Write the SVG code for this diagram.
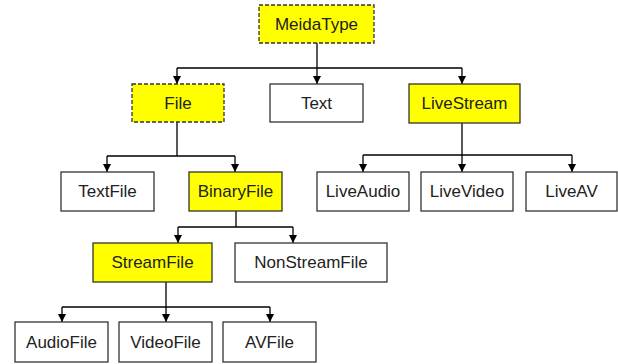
<svg xmlns="http://www.w3.org/2000/svg" width="618" height="364" viewBox="0 0 618 364">
<defs>
<style>
.n{fill:#fff;stroke:#333;stroke-width:1.3}
.y{fill:#ffff00;stroke:#333;stroke-width:1.3}
.d{stroke-dasharray:4 2}
text{font-family:"Liberation Sans",Arial,sans-serif;font-size:17px;fill:#222;text-anchor:middle}
.c{fill:none;stroke:#000;stroke-width:1.3}
</style>
<marker id="ah" markerWidth="8" markerHeight="8" refX="4" refY="7" orient="auto" markerUnits="userSpaceOnUse" viewBox="0 0 8 8">
<path d="M0,0 L8,0 L4,8 Z" fill="#000" transform="rotate(-90 4 4)"/>
</marker>
<marker id="a" markerWidth="8" markerHeight="9" refX="8" refY="4" orient="auto" markerUnits="userSpaceOnUse" viewBox="0 0 8 8">
<path d="M0,0 L8,4 L0,8 Z" fill="#000"/>
</marker>
</defs>
<rect width="618" height="364" fill="#fff"/>
<g id="connectors">
<path class="c" d="M317,43 V68 M177,68 H462"/>
<path class="c" d="M177,68 V84" marker-end="url(#a)"/>
<path class="c" d="M317,68 V84" marker-end="url(#a)"/>
<path class="c" d="M462,68 V84" marker-end="url(#a)"/>
<path class="c" d="M177,122 V156 M107,156 H235"/>
<path class="c" d="M107,156 V172" marker-end="url(#a)"/>
<path class="c" d="M235,156 V172" marker-end="url(#a)"/>
<path class="c" d="M462,123 V155 M363,155 H572"/>
<path class="c" d="M363,155 V172" marker-end="url(#a)"/>
<path class="c" d="M462,155 V172" marker-end="url(#a)"/>
<path class="c" d="M572,155 V172" marker-end="url(#a)"/>
<path class="c" d="M236,211 V227 M178,227 H293"/>
<path class="c" d="M178,227 V243" marker-end="url(#a)"/>
<path class="c" d="M293,227 V243" marker-end="url(#a)"/>
<path class="c" d="M166,282 V307 M62,307 H270"/>
<path class="c" d="M62,307 V322" marker-end="url(#a)"/>
<path class="c" d="M166,307 V322" marker-end="url(#a)"/>
<path class="c" d="M270,307 V322" marker-end="url(#a)"/>
</g>
<g id="MeidaType"><rect class="y d" x="259" y="5" width="115" height="38"/><text x="316.5" y="30">MeidaType</text></g>
<g id="File"><rect class="y d" x="132" y="84" width="92" height="38"/><text x="178" y="109">File</text></g>
<g id="Text"><rect class="n" x="270" y="84" width="93" height="38"/><text x="316.5" y="109">Text</text></g>
<g id="LiveStream"><rect class="y" x="409" y="84" width="111" height="39"/><text x="464.5" y="109">LiveStream</text></g>
<g id="TextFile"><rect class="n" x="61" y="172" width="93" height="39"/><text x="107.5" y="197">TextFile</text></g>
<g id="BinaryFile"><rect class="y" x="189" y="172" width="93" height="39"/><text x="235.5" y="197">BinaryFile</text></g>
<g id="LiveAudio"><rect class="n" x="317" y="172" width="92" height="39"/><text x="363" y="197">LiveAudio</text></g>
<g id="LiveVideo"><rect class="n" x="421" y="172" width="92" height="39"/><text x="467" y="197">LiveVideo</text></g>
<g id="LiveAV"><rect class="n" x="526" y="172" width="91" height="39"/><text x="571.5" y="197">LiveAV</text></g>
<g id="StreamFile"><rect class="y" x="93" y="243" width="119" height="39"/><text x="152.5" y="268">StreamFile</text></g>
<g id="NonStreamFile"><rect class="n" x="235" y="243" width="152" height="39"/><text x="311" y="268">NonStreamFile</text></g>
<g id="AudioFile"><rect class="n" x="15" y="322" width="93" height="40"/><text x="61.5" y="348">AudioFile</text></g>
<g id="VideoFile"><rect class="n" x="119" y="322" width="93" height="40"/><text x="165.5" y="348">VideoFile</text></g>
<g id="AVFile"><rect class="n" x="223" y="322" width="93" height="40"/><text x="269.5" y="348">AVFile</text></g>
</svg>
